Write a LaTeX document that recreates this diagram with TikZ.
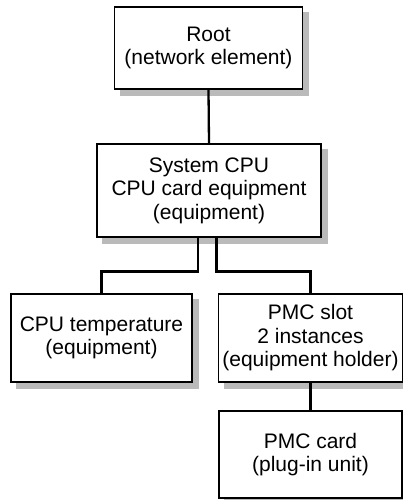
\documentclass[tikz,border=0pt]{standalone}
\usepackage{fontspec}
\setmainfont{Liberation Sans}
\usetikzlibrary{backgrounds}
\begin{document}
\begin{tikzpicture}[x=1pt,y=-1pt,
  box/.style={draw=black, line width=1.2pt, fill=white, align=center,
    inner sep=0pt, font=\fontsize{21}{23.5}\selectfont},
  shade/.style={fill=black!27},
  link/.style={line width=2.3pt}]
  \useasboundingbox (0,0) rectangle (403,500);
  \node[box, minimum width=188pt, minimum height=82pt] (root) at (208.5,48) {Root\\(network element)};
  \node[box, minimum width=224pt, minimum height=93pt] (sys) at (209,190.5) {System CPU\\CPU card equipment\\(equipment)};
  \node[box, minimum width=181pt, minimum height=88pt] (temp) at (101.5,338) {CPU temperature\\(equipment)};
  \node[box, minimum width=184pt, minimum height=88pt] (slot) at (310.5,338) {PMC slot\\2 instances\\(equipment holder)};
  \node[box, minimum width=183pt, minimum height=87pt] (card) at (310.5,454.5) {PMC card\\(plug-in unit)};
  % offset shadows behind the boxes
  \begin{scope}[on background layer]
    \fill[shade] ([shift={(6,6)}]root.north west) rectangle ([shift={(6,6)}]root.south east);
    \fill[shade] ([shift={(6,6)}]sys.north west) rectangle ([shift={(6,6)}]sys.south east);
    \fill[shade] ([shift={(6,6)}]temp.north west) rectangle ([shift={(6,6)}]temp.south east);
    \fill[shade] ([shift={(6,6)}]slot.north west) rectangle ([shift={(6,6)}]slot.south east);
    \fill[shade] ([shift={(6,6)}]card.north west) rectangle ([shift={(6,6)}]card.south east);
  \end{scope}
  \draw[link] (root.south) -- (sys.north);
  \draw[link] ([xshift=-11pt]sys.south) -- ++(0,34) -| (temp.north);
  \draw[link] ([xshift=7.5pt]sys.south) -- ++(0,34) -| (slot.north);
  \draw[link] (slot.south) -- (card.north);
\end{tikzpicture}
\end{document}
